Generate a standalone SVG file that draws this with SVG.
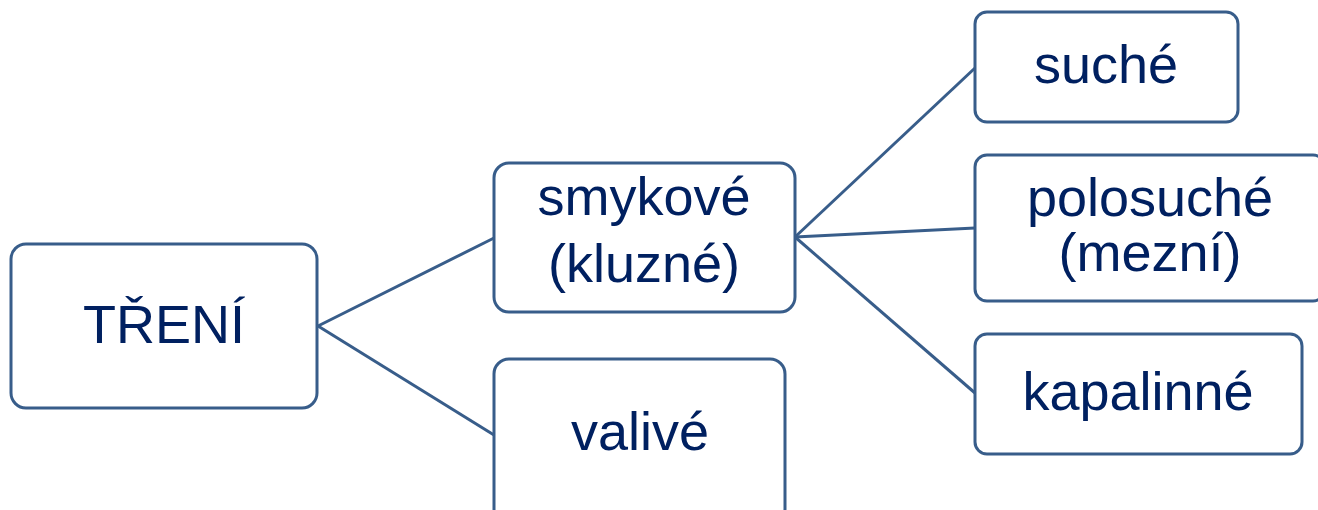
<svg xmlns="http://www.w3.org/2000/svg" width="1318" height="510" viewBox="0 0 1318 510">
<style>
.box{fill:#ffffff;stroke:#385D8A;stroke-width:3}
.con{stroke:#385D8A;stroke-width:3;fill:none}
.t{font-family:"Liberation Sans",Arial,sans-serif;font-size:54px;fill:#002060;text-anchor:middle}
</style>
<rect width="1318" height="510" fill="#ffffff"/>
<g id="connectors">
<line class="con" x1="318" y1="326" x2="494" y2="238"/>
<line class="con" x1="318" y1="326" x2="494" y2="435"/>
<line class="con" x1="795" y1="237" x2="975" y2="68"/>
<line class="con" x1="795" y1="237" x2="975" y2="228"/>
<line class="con" x1="795" y1="237" x2="975" y2="393"/>
</g>
<g id="treni">
<rect class="box" x="11" y="244" width="306" height="164" rx="15"/>
<text class="t" x="164" y="343">TŘENÍ</text>
</g>
<g id="smykove">
<rect class="box" x="494" y="163" width="301" height="149" rx="15"/>
<text class="t" x="644" y="215">smykové</text>
<text class="t" x="644" y="282">(kluzné)</text>
</g>
<g id="valive">
<rect class="box" x="494" y="359" width="291" height="165" rx="15"/>
<text class="t" x="640" y="450">valivé</text>
</g>
<g id="suche">
<rect class="box" x="975" y="12" width="263" height="110" rx="12"/>
<text class="t" x="1106" y="83">suché</text>
</g>
<g id="polosuche">
<rect class="box" x="975" y="155" width="350" height="146" rx="12"/>
<text class="t" x="1150" y="216">polosuché</text>
<text class="t" x="1150" y="271">(mezní)</text>
</g>
<g id="kapalinne">
<rect class="box" x="975" y="334" width="327" height="120" rx="12"/>
<text class="t" x="1138" y="410">kapalinné</text>
</g>
</svg>
